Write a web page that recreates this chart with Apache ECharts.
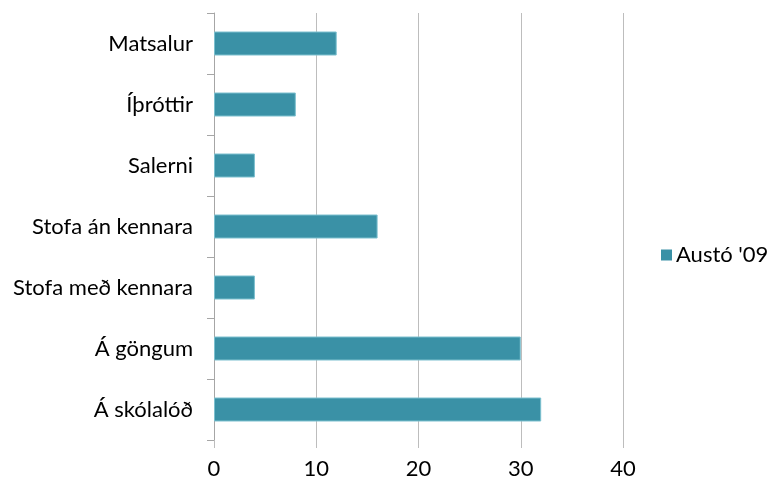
<!DOCTYPE html>
<html><head><meta charset="utf-8">
<script src="https://cdn.jsdelivr.net/npm/echarts@6/dist/echarts.min.js"></script>
<style>html,body{margin:0;padding:0;background:#fff}#c{width:774px;height:486px}</style>
</head><body><div id="c"></div>
<script>
const categories = ["Matsalur", "Íþróttir", "Salerni", "Stofa án kennara", "Stofa með kennara", "Á göngum", "Á skólalóð"];
const values = [12, 8, 4, 16, 4, 30, 32];
const seriesName = "Austó '09";
const xTicks = [0, 10, 20, 30, 40];

const font = "Lato, 'Open Sans', sans-serif";
const chart = echarts.init(document.getElementById('c'), null, {renderer: 'canvas'});
chart.setOption({
  animation: false,
  grid: {left: 214, right: 151, top: 13, bottom: 46, containLabel: false},
  legend: {
    data: [seriesName], orient: 'vertical', left: 656, top: 239,
    itemWidth: 11, itemHeight: 11, itemGap: 4, icon: 'rect',
    itemStyle: {borderWidth: 0},
    textStyle: {fontFamily: font, fontSize: 22, color: '#000', padding: [0,0,0,-1]}
  },
  xAxis: {
    type: 'value', min: xTicks[0], max: xTicks[xTicks.length-1], interval: 10,
    axisLine: {show: false},
    axisTick: {show: true, length: 8, lineStyle: {color: '#bdbdbd', width: 1}},
    splitLine: {show: true, lineStyle: {color: '#bdbdbd', width: 1}},
    axisLabel: {fontFamily: font, fontSize: 22, color: '#000', margin: 18}
  },
  yAxis: {
    type: 'category', data: categories, inverse: true,
    axisLine: {show: true, lineStyle: {color: '#a6a6a6', width: 1}},
    axisTick: {show: true, length: 7, lineStyle: {color: '#a6a6a6'}},
    axisLabel: {fontFamily: font, fontSize: 22, color: '#000', margin: 21}
  },
  series: [{
    name: seriesName, type: 'bar', data: values, barWidth: 24,
    itemStyle: {color: '#3a91a6', borderColor: '#7cc0cf', borderWidth: 1}
  }]
});
</script></body></html>
